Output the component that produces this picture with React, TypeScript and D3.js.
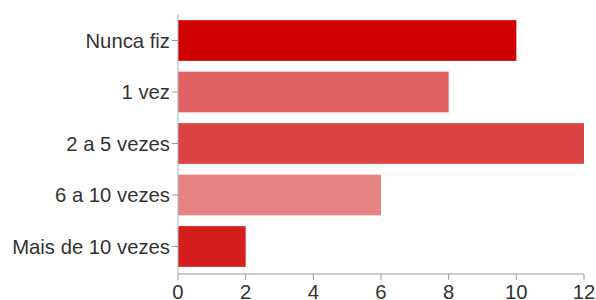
import React, { useEffect, useRef } from 'react';
import * as d3 from 'd3';

const categories = ['Nunca fiz', '1 vez', '2 a 5 vezes', '6 a 10 vezes', 'Mais de 10 vezes'];
const values = [10, 8, 12, 6, 2];
const colors = ['#d10000', '#e06262', '#dc4343', '#e68282', '#d61e1e'];
const xTicks = [0, 2, 4, 6, 8, 10, 12];

export default function App() {
  const ref = useRef<SVGSVGElement>(null);

  useEffect(() => {
    const width = 596;
    const height = 300;
    const left = 178;
    const right = 584;
    const svg = d3.select(ref.current);
    svg.selectAll('*').remove();
    svg.attr('width', width).attr('height', height);

    const x = d3.scaleLinear().domain([0, 12]).range([left, right]);
    const y = d3.scaleBand().domain(categories).range([15, 272]).paddingInner(0.21).paddingOuter(0.1);

    // bars
    svg.append('g').selectAll('rect').data(values).enter().append('rect')
      .attr('x', x(0))
      .attr('y', (d, i) => y(categories[i]) as number)
      .attr('width', d => x(d) - x(0))
      .attr('height', y.bandwidth())
      .attr('fill', (d, i) => colors[i]);

    // y axis
    svg.append('line')
      .attr('x1', left).attr('x2', left).attr('y1', 14).attr('y2', 274)
      .attr('stroke', '#a8b8c0').attr('stroke-width', 1);
    const gy = svg.append('g');
    categories.forEach(c => {
      const cy = (y(c) as number) + y.bandwidth() / 2;
      gy.append('line').attr('x1', left - 6).attr('x2', left).attr('y1', cy).attr('y2', cy)
        .attr('stroke', '#999');
      gy.append('text').text(c)
        .attr('x', left - 8).attr('y', cy).attr('dy', '0.35em')
        .attr('text-anchor', 'end')
        .attr('font-family', 'Liberation Sans, Arial, sans-serif')
        .attr('font-size', 20.3)
        .attr('fill', '#333');
    });

    // x axis
    svg.append('line')
      .attr('x1', left).attr('x2', right).attr('y1', 274).attr('y2', 274)
      .attr('stroke', '#999');
    const gx = svg.append('g');
    xTicks.forEach(t => {
      gx.append('line').attr('x1', x(t)).attr('x2', x(t)).attr('y1', 274).attr('y2', 280)
        .attr('stroke', '#999');
      gx.append('text').text(t)
        .attr('x', x(t)).attr('y', 299)
        .attr('text-anchor', 'middle')
        .attr('font-family', 'Liberation Sans, Arial, sans-serif')
        .attr('font-size', 20.3)
        .attr('fill', '#333');
    });
  }, []);

  return <svg ref={ref} style={{ position: 'absolute', left: 0, top: 0 }} />;
}
